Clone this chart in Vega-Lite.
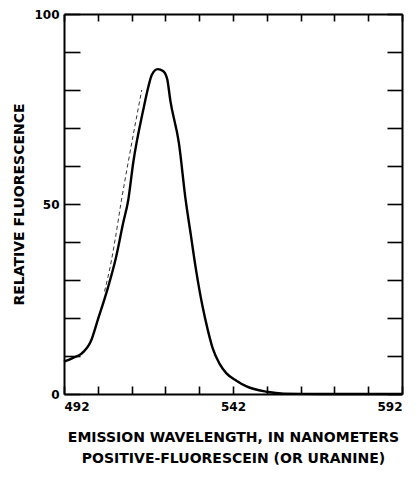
{
  "$schema": "https://vega.github.io/schema/vega-lite/v6.json",
  "width": 338,
  "height": 380,
  "autosize": "none",
  "padding": {"left": 64, "top": 14, "right": 14, "bottom": 84},
  "background": "white",
  "config": {
    "view": {"stroke": null},
    "axis": {
      "domainColor": "black", "domainWidth": 2, "tickColor": "black", "tickWidth": 1.6,
      "labelFont": "DejaVu Sans", "labelFontWeight": "bold", "labelFontSize": 12, "labelColor": "black",
      "titleFont": "DejaVu Sans", "titleFontWeight": "bold", "titleFontSize": 14, "titleColor": "black",
      "grid": false
    }
  },
  "data": {"values": [
    {"wl": 492, "rf": 8.5, "series": "solid"},
    {"wl": 494.7, "rf": 9.5, "series": "solid"},
    {"wl": 497, "rf": 10.5, "series": "solid"},
    {"wl": 500, "rf": 14, "series": "solid"},
    {"wl": 502, "rf": 19.5, "series": "solid"},
    {"wl": 505, "rf": 28, "series": "solid"},
    {"wl": 507.4, "rf": 36, "series": "solid"},
    {"wl": 509.5, "rf": 45, "series": "solid"},
    {"wl": 511, "rf": 51, "series": "solid"},
    {"wl": 512.5, "rf": 61, "series": "solid"},
    {"wl": 515.5, "rf": 75, "series": "solid"},
    {"wl": 517, "rf": 81, "series": "solid"},
    {"wl": 518, "rf": 84, "series": "solid"},
    {"wl": 519.7, "rf": 85.5, "series": "solid"},
    {"wl": 521.3, "rf": 85, "series": "solid"},
    {"wl": 522.5, "rf": 83, "series": "solid"},
    {"wl": 523.5, "rf": 77, "series": "solid"},
    {"wl": 526, "rf": 66, "series": "solid"},
    {"wl": 528, "rf": 51, "series": "solid"},
    {"wl": 529.5, "rf": 42, "series": "solid"},
    {"wl": 531, "rf": 33, "series": "solid"},
    {"wl": 533, "rf": 23, "series": "solid"},
    {"wl": 534.5, "rf": 17, "series": "solid"},
    {"wl": 536, "rf": 12, "series": "solid"},
    {"wl": 538, "rf": 8, "series": "solid"},
    {"wl": 540, "rf": 5.5, "series": "solid"},
    {"wl": 543, "rf": 3.5, "series": "solid"},
    {"wl": 546, "rf": 2, "series": "solid"},
    {"wl": 552, "rf": 0.6, "series": "solid"},
    {"wl": 557, "rf": 0.1, "series": "solid"},
    {"wl": 568, "rf": 0, "series": "solid"},
    {"wl": 592, "rf": 0, "series": "solid"},
    {"wl": 504, "rf": 27, "series": "dashed"},
    {"wl": 506, "rf": 35, "series": "dashed"},
    {"wl": 507, "rf": 40, "series": "dashed"},
    {"wl": 509, "rf": 51, "series": "dashed"},
    {"wl": 511, "rf": 61, "series": "dashed"},
    {"wl": 515, "rf": 80, "series": "dashed"}
  ]},
  "layer": [
    {
      "transform": [{"filter": "datum.series == 'solid'"}],
      "mark": {"type": "line", "color": "black", "strokeWidth": 2.4, "interpolate": "monotone"},
      "encoding": {
        "x": {"field": "wl", "type": "quantitative",
              "scale": {"domain": [492, 592], "nice": false, "zero": false},
              "axis": {"orient": "bottom", "values": [492,502,512,522,532,542,552,562,572,582,592],
                       "tickSize": -8, "labelPadding": 15, "format": "d",
                       "labelExpr": "(datum.value - 492) % 50 == 0 ? datum.label : ''",
                       "title": ["EMISSION WAVELENGTH, IN NANOMETERS", "POSITIVE-FLUORESCEIN (OR URANINE)"],
                       "titlePadding": 18, "titleLineHeight": 21}},
        "y": {"field": "rf", "type": "quantitative",
              "scale": {"domain": [0, 100], "nice": false},
              "axis": {"orient": "left", "values": [0,10,20,30,40,50,60,70,80,90,100],
                       "tickSize": -16, "labelPadding": 21,
                       "labelExpr": "datum.value % 50 == 0 ? datum.label : ''",
                       "title": "RELATIVE FLUORESCENCE", "titlePadding": 7}}
      }
    },
    {
      "transform": [{"filter": "datum.series == 'dashed'"}],
      "mark": {"type": "line", "color": "#333", "strokeWidth": 1, "strokeDash": [4, 3], "interpolate": "monotone"},
      "encoding": {
        "x": {"field": "wl", "type": "quantitative",
              "scale": {"domain": [492, 592], "nice": false, "zero": false},
              "axis": {"orient": "top", "values": [492,502,512,522,532,542,552,562,572,582,592],
                       "tickSize": -7, "labels": false, "title": null}},
        "y": {"field": "rf", "type": "quantitative",
              "scale": {"domain": [0, 100], "nice": false},
              "axis": {"orient": "right", "values": [0,10,20,30,40,50,60,70,80,90,100],
                       "tickSize": -15, "labels": false, "title": null}}
      }
    }
  ],
  "resolve": {"scale": {"x": "independent", "y": "independent"}}
}
